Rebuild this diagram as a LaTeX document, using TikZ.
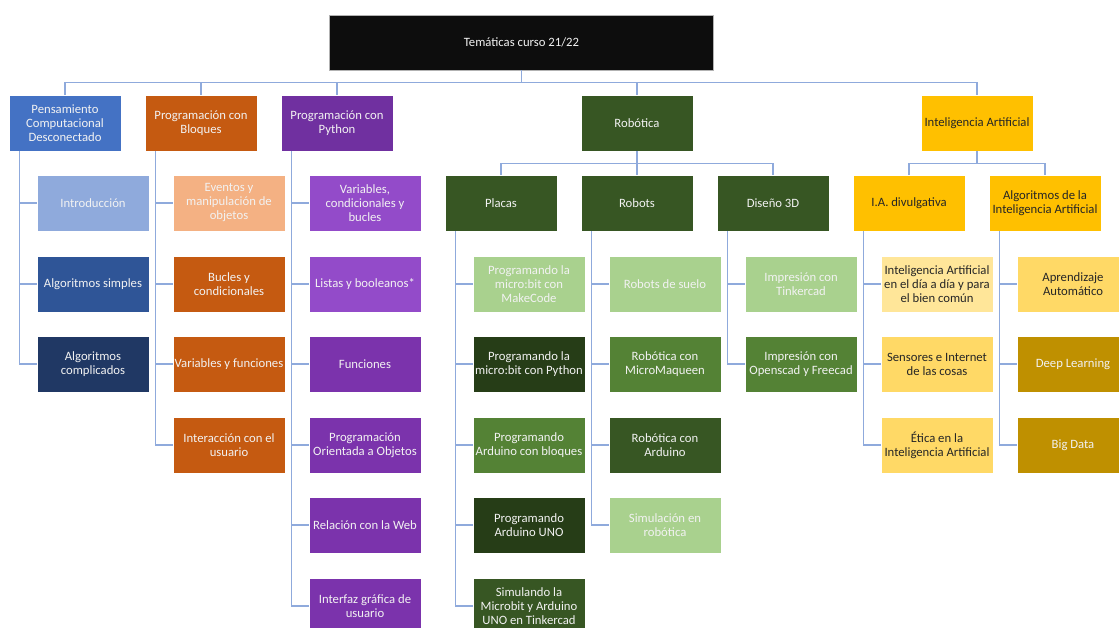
\documentclass[tikz,border=0pt]{standalone}
\usepackage{fontspec}
\setmainfont{Carlito}
\usetikzlibrary{calc}

% palette
\definecolor{linkc}{RGB}{143,170,220}
\definecolor{rootc}{RGB}{13,13,13}
\definecolor{blueA}{RGB}{68,114,196}
\definecolor{blueL}{RGB}{143,170,220}
\definecolor{blueD}{RGB}{47,85,151}
\definecolor{blueDD}{RGB}{32,56,100}
\definecolor{orangeA}{RGB}{197,90,17}
\definecolor{orangeL}{RGB}{244,177,131}
\definecolor{purpleA}{RGB}{112,48,160}
\definecolor{purpleL}{RGB}{147,75,201}
\definecolor{purpleM}{RGB}{123,51,172}
\definecolor{greenA}{RGB}{55,86,35}
\definecolor{greenL}{RGB}{169,209,142}
\definecolor{greenM}{RGB}{84,130,53}
\definecolor{greenDD}{RGB}{38,61,23}
\definecolor{goldA}{RGB}{255,192,0}
\definecolor{goldL}{RGB}{255,230,153}
\definecolor{goldM}{RGB}{255,217,102}
\definecolor{goldD}{RGB}{191,144,0}
\definecolor{darktext}{RGB}{38,38,38}
\definecolor{lighttext}{RGB}{242,242,242}

\begin{document}
\begin{tikzpicture}[x=1pt,y=-1pt,
  box/.style={rectangle, minimum width=112pt, minimum height=56pt, inner sep=0pt,
    align=center, font=\fontsize{12.7}{14}\selectfont, draw=white, line width=0.6pt,
    text=lighttext},
  dk/.style={text=darktext},
  link/.style={draw=linkc, line width=1.2pt}]
\useasboundingbox (0,0) rectangle (1119,628);
\clip (0,0) rectangle (1119,628);

% root
\node[box, fill=rootc, draw=gray!60, minimum width=384pt, minimum height=55pt] (root) at (521.5,42.5) {Temáticas curso 21/22};

% first level
\node[box, fill=blueA]   (pc)  at (65,123)  {Pensamiento\\Computacional\\Desconectado};
\node[box, fill=orangeA] (bl)  at (201,123) {Programación con\\Bloques};
\node[box, fill=purpleA] (py)  at (337,123) {Programación con\\Python};
\node[box, fill=greenA]  (rob) at (637,123) {Robótica};
\node[box, fill=goldA, dk] (ia) at (977,123) {Inteligencia Artificial};

% pensamiento computacional
\node[box, fill=blueL]  (pc1) at (93,203) {Introducción};
\node[box, fill=blueD]  (pc2) at (93,284) {Algoritmos simples};
\node[box, fill=blueDD] (pc3) at (93,364) {Algoritmos\\complicados};

% bloques
\node[box, fill=orangeL] (bl1) at (229,203) {Eventos y\\manipulación de\\objetos};
\node[box, fill=orangeA] (bl2) at (229,284) {Bucles y\\condicionales};
\node[box, fill=orangeA] (bl3) at (229,364) {Variables y funciones};
\node[box, fill=orangeA] (bl4) at (229,445) {Interacción con el\\usuario};

% python
\node[box, fill=purpleL] (py1) at (365,203) {Variables,\\condicionales y\\bucles};
\node[box, fill=purpleL] (py2) at (365,284) {Listas y booleanos*};
\node[box, fill=purpleM] (py3) at (365,364) {Funciones};
\node[box, fill=purpleM] (py4) at (365,445) {Programación\\Orientada a Objetos};
\node[box, fill=purpleM] (py5) at (365,525) {Relación con la Web};
\node[box, fill=purpleM] (py6) at (365,606) {Interfaz gráfica de\\usuario};

% robotica
\node[box, fill=greenA] (pl) at (501,203) {Placas};
\node[box, fill=greenA] (rb) at (637,203) {Robots};
\node[box, fill=greenA] (ds) at (773,203) {Diseño 3D};

\node[box, fill=greenL]  (pl1) at (529,284) {Programando la\\micro:bit con\\MakeCode};
\node[box, fill=greenDD] (pl2) at (529,364) {Programando la\\micro:bit con Python};
\node[box, fill=greenM]  (pl3) at (529,445) {Programando\\Arduino con bloques};
\node[box, fill=greenDD] (pl4) at (529,525) {Programando\\Arduino UNO};
\node[box, fill=greenA]  (pl5) at (529,606) {Simulando la\\Microbit y Arduino\\UNO en Tinkercad};

\node[box, fill=greenL] (rb1) at (665,284) {Robots de suelo};
\node[box, fill=greenM] (rb2) at (665,364) {Robótica con\\MicroMaqueen};
\node[box, fill=greenA] (rb3) at (665,445) {Robótica con\\Arduino};
\node[box, fill=greenL] (rb4) at (665,525) {Simulación en\\robótica};

\node[box, fill=greenL] (ds1) at (801,284) {Impresión con\\Tinkercad};
\node[box, fill=greenM] (ds2) at (801,364) {Impresión con\\Openscad y Freecad};

% inteligencia artificial
\node[box, fill=goldA, dk] (iad) at (909,203)  {I.A. divulgativa};
\node[box, fill=goldA, dk] (ial) at (1045,203) {Algoritmos de la\\Inteligencia Artificial};

\node[box, fill=goldL, dk] (iad1) at (937,284) {Inteligencia Artificial\\en el día a día y para\\el bien común};
\node[box, fill=goldM, dk] (iad2) at (937,364) {Sensores e Internet\\de las cosas};
\node[box, fill=goldM, dk] (iad3) at (937,445) {Ética en la\\Inteligencia Artificial};

\node[box, fill=goldM, dk] (ial1) at (1073,284) {Aprendizaje\\Automático};
\node[box, fill=goldD]     (ial2) at (1073,364) {Deep Learning};
\node[box, fill=goldD]     (ial3) at (1073,445) {Big Data};

% connectors: root to first level
\foreach \c in {pc,bl,py,rob,ia}
  \draw[link] (root.south) -- ++(0,12.5) -| (\c.north);

% connectors: second-level buses
\foreach \c in {pl,rb,ds}
  \draw[link] (rob.south) -- ++(0,12) -| (\c.north);
\foreach \c in {iad,ial}
  \draw[link] (ia.south) -- ++(0,12) -| (\c.north);

% connectors: side lists
\foreach \p/\list in {pc/{pc1,pc2,pc3}, bl/{bl1,bl2,bl3,bl4},
    py/{py1,py2,py3,py4,py5,py6}, pl/{pl1,pl2,pl3,pl4,pl5},
    rb/{rb1,rb2,rb3,rb4}, ds/{ds1,ds2}, iad/{iad1,iad2,iad3},
    ial/{ial1,ial2,ial3}}
  \foreach \c in \list
    \draw[link] ($(\p.south west)+(11,0)$) |- (\c.west);
\end{tikzpicture}
\end{document}
